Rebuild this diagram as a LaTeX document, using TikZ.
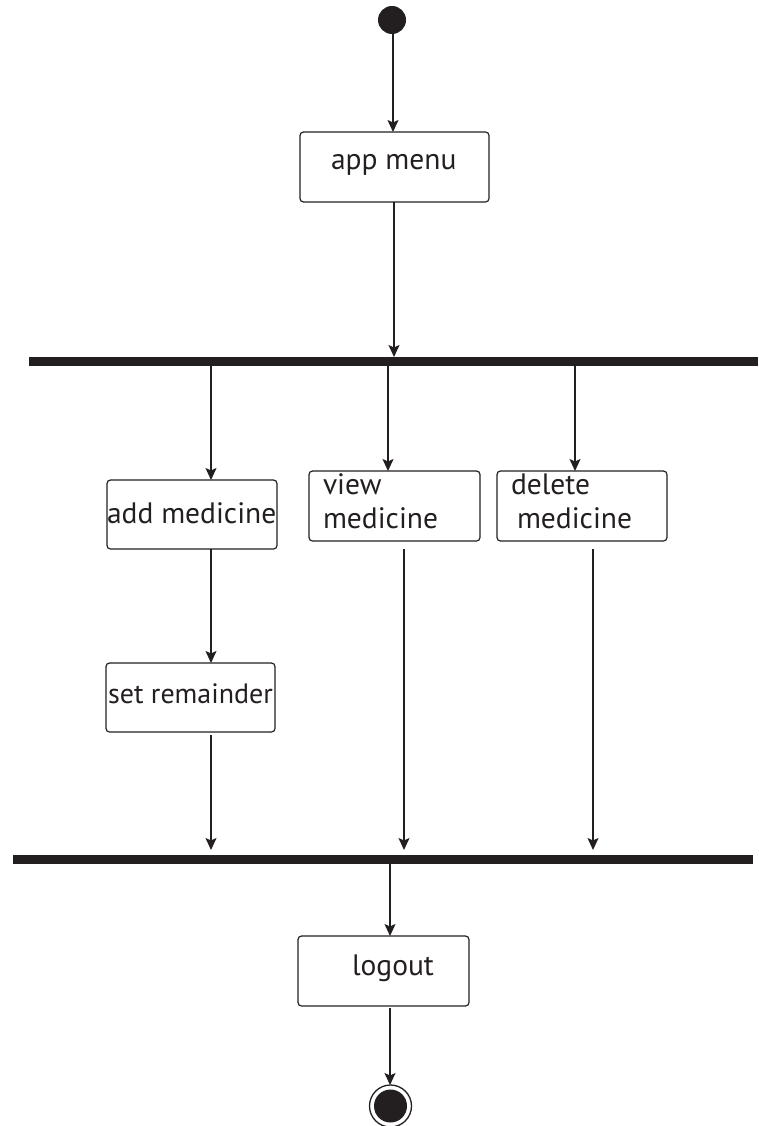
\documentclass[tikz,border=0pt]{standalone}
\usepackage{fontspec}
\setmainfont{PT Sans}
\usetikzlibrary{arrows.meta}
\definecolor{ink}{HTML}{231F20}
\tikzset{
  box/.style={draw=ink, line width=1.2pt, rounded corners=3.5pt, inner sep=0pt, outer sep=0pt},
  lbl/.style={anchor=base west, inner sep=0pt, outer sep=0pt, text=ink, font=\fontsize{29.5}{32}\selectfont},
  bar/.style={fill=ink, inner sep=0pt, outer sep=0pt, minimum height=9pt},
  arr/.style={draw=ink, line width=1.5pt, -{Stealth[length=12pt,width=11pt,inset=2.5pt]}},
  bullet/.style={circle, fill=ink, inner sep=0pt, outer sep=0pt},
}
\begin{document}
\begin{tikzpicture}[x=1pt, y=-1pt]
  \useasboundingbox (0,0) rectangle (758,1126);

  % initial state
  \node[bullet, minimum size=28pt] (start) at (392,20) {};

  % action boxes
  \node[box, minimum width=189, minimum height=70] (menu)   at (394.5,167)   {};
  \node[box, minimum width=170, minimum height=69] (add)    at (192,514.5)   {};
  \node[box, minimum width=171, minimum height=70] (view)   at (394.5,506)   {};
  \node[box, minimum width=170, minimum height=70] (delete) at (582,506)     {};
  \node[box, minimum width=169, minimum height=69] (remind) at (190.5,697.5) {};
  \node[box, minimum width=171, minimum height=70] (logout) at (383.5,971)   {};

  % texts
  \node[lbl] (tmenu)   at (331,170) {app menu};
  \node[lbl] (tadd)    at (107,523) {add medicine};
  \node[lbl] (tview1)  at (323,494) {view};
  \node[lbl] (tview2)  at (323,528) {medicine};
  \node[lbl] (tdel1)   at (511,494) {delete};
  \node[lbl] (tdel2)   at (517,528) {medicine};
  \node[lbl, font=\fontsize{28}{30}\selectfont] (tremind) at (108,703) {set remainder};
  \node[lbl] (tlogout) at (352,975) {logout};

  % fork and join bars
  \node[bar, minimum width=729] (fork) at (393.5,361.5) {};
  \node[bar, minimum width=740] (join) at (383,859.5)   {};

  % final state
  \node[circle, draw=ink, line width=1.3pt, minimum size=42pt, inner sep=0pt, outer sep=0pt] (final) at (390.5,1106) {};
  \node[bullet, minimum size=33pt] (finaldot) at (final.center) {};

  % connector columns
  \coordinate (c0) at (393,0);
  \coordinate (c1) at (394,0);
  \coordinate (c2) at (211,0);
  \coordinate (c3) at (388,0);
  \coordinate (c4) at (575,0);
  \coordinate (c5) at (404,0);
  \coordinate (c6) at (593,0);
  \coordinate (c7) at (390,0);
  \coordinate (gapv) at (0,549);
  \coordinate (gapr) at (0,735);
  \coordinate (gapl) at (0,1008);
  \coordinate (stopj) at (0,850);

  \draw[arr] (start.south -| c0) -- (menu.north -| c0);
  \draw[arr] (menu.south -| c1) -- (fork.north -| c1);
  \draw[arr] (fork.south -| c2) -- (add.north -| c2);
  \draw[arr] (fork.south -| c3) -- (view.north -| c3);
  \draw[arr] (fork.south -| c4) -- (delete.north -| c4);
  \draw[arr] (add.south -| c2) -- (remind.north -| c2);
  \draw[arr] (gapr -| c2) -- (stopj -| c2);
  \draw[arr] (gapv -| c5) -- (stopj -| c5);
  \draw[arr] (gapv -| c6) -- (stopj -| c6);
  \draw[arr] (join.south -| c7) -- (logout.north -| c7);
  \draw[arr] (gapl -| c7) -- (final.north -| c7);
\end{tikzpicture}
\end{document}
